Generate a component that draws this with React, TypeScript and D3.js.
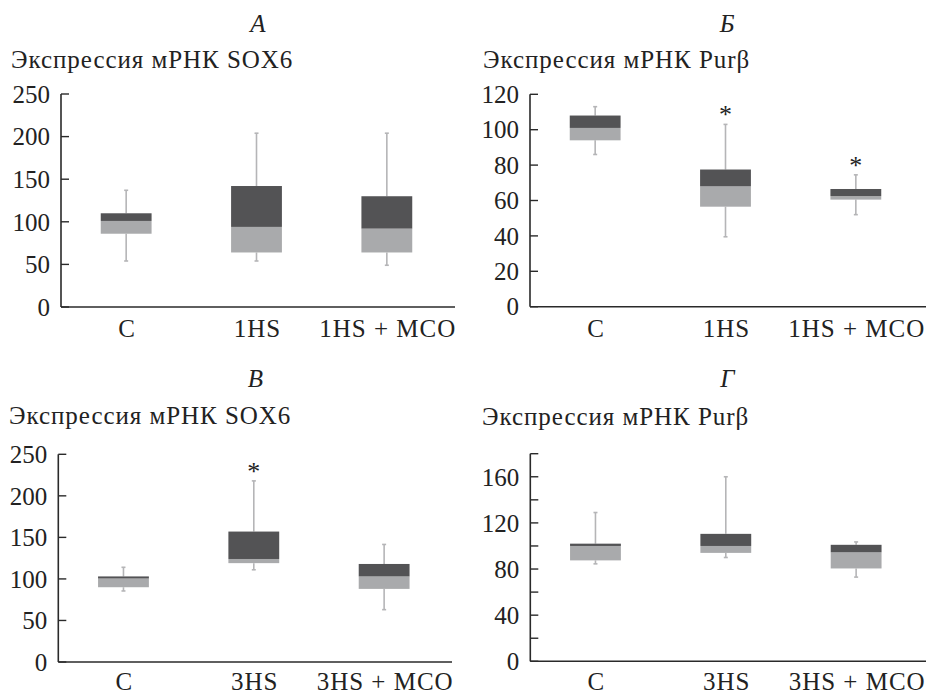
import React from "react";
import * as d3 from "d3";

// ---------- data ----------
const catsA = ["C", "1HS", "1HS + MCO"];
const catsB = ["C", "1HS", "1HS + MCO"];
const catsV = ["C", "3HS", "3HS + MCO"];
const catsG = ["C", "3HS", "3HS + MCO"];

// [whiskerLow, q1, median, q3, whiskerHigh]
const statsA = [
  [54, 86, 101, 110, 137],
  [54, 64, 94, 142, 204],
  [49, 64, 92, 130, 204],
];
const statsB = [
  [86, 94, 101, 108, 113],
  [39.5, 56.5, 68, 77.5, 103],
  [52, 60.5, 62.5, 66.5, 74.5],
];
const statsV = [
  [85.5, 90, 100.5, 103, 114],
  [111, 119, 124, 157, 218],
  [63, 88, 103, 118, 141.5],
];
const statsG = [
  [84.5, 87.5, 100, 102, 129],
  [90, 94, 100, 110.5, 160],
  [73, 80.5, 94.5, 101, 103.5],
];

const starsA = [false, false, false];
const starsB = [false, true, true];
const starsV = [false, true, false];
const starsG = [false, false, false];

const ticksA = [0, 50, 100, 150, 200, 250];
const ticksB = [0, 20, 40, 60, 80, 100, 120];
const ticksV = [0, 50, 100, 150, 200, 250];
const ticksG = [0, 20, 40, 60, 80, 100, 120, 140, 160, 180];
const labelsG = [0, 40, 80, 120, 160];

const titleSOX = "Экспрессия мРНК SOX6";
const titlePur = "Экспрессия мРНК Purβ";

// ---------- styles ----------
const FONT = "'Liberation Serif', 'Times New Roman', serif";
const DARK = "#535355";
const LIGHT = "#a9aaac";
const WHISK = "#b5b5b7";
const AXIS = "#2a2a2a";
const TXT = "#222";

type PanelProps = {
  letter: string;
  title: string;
  cats: string[];
  stats: number[][];
  stars: boolean[];
  domainMax: number;
  ticks: number[];
  labels: number[];
  ax: number;
  yTop: number;
  y0: number;
  xEnd: number;
  titleX: number;
  titleY: number;
  letterY: number;
  catY: number;
};

function Panel(p: PanelProps) {
  const y = d3.scaleLinear().domain([0, p.domainMax]).range([p.y0, p.yTop]);
  const x = d3.scaleBand<string>().domain(p.cats).range([p.ax, p.ax + 391]).paddingInner(0).paddingOuter(0);
  const bw = x.step() * 0.39;
  const capW = 4;
  const plotCenter = p.ax + 197;
  return (
    <g>
      <text x={plotCenter} y={p.letterY} textAnchor="middle" fontStyle="italic" fontSize={25} fontFamily={FONT} fill={TXT}>
        {p.letter}
      </text>
      <text x={p.titleX} y={p.titleY} fontSize={25} letterSpacing={0.95} fontFamily={FONT} fill={TXT}>
        {p.title}
      </text>
      {p.stats.map((s, i) => {
        const cx = (x(p.cats[i]) as number) + x.bandwidth() / 2;
        const [lo, q1, med, q3, hi] = s;
        return (
          <g key={i}>
            <line x1={cx} x2={cx} y1={y(hi)} y2={y(q3)} stroke={WHISK} strokeWidth={1.6} />
            <line x1={cx} x2={cx} y1={y(q1)} y2={y(lo)} stroke={WHISK} strokeWidth={1.6} />
            <line x1={cx - capW / 2} x2={cx + capW / 2} y1={y(hi)} y2={y(hi)} stroke={WHISK} strokeWidth={1.6} />
            <line x1={cx - capW / 2} x2={cx + capW / 2} y1={y(lo)} y2={y(lo)} stroke={WHISK} strokeWidth={1.6} />
            <rect x={cx - bw / 2} width={bw} y={y(med)} height={y(q1) - y(med)} fill={LIGHT} />
            <rect x={cx - bw / 2} width={bw} y={y(q3)} height={y(med) - y(q3)} fill={DARK} />
            {p.stars[i] && (
              <text x={cx} y={y(hi) - 1} textAnchor="middle" fontSize={26} fontFamily={FONT} fill={TXT}>
                *
              </text>
            )}
            <text x={cx + 1} y={p.catY} textAnchor="middle" fontSize={25} letterSpacing={1} fontFamily={FONT} fill={TXT}>
              {p.cats[i]}
            </text>
          </g>
        );
      })}
      <line x1={p.ax} x2={p.ax} y1={p.yTop} y2={p.y0} stroke={AXIS} strokeWidth={1.6} />
      <line x1={p.ax} x2={p.xEnd} y1={p.y0} y2={p.y0} stroke={AXIS} strokeWidth={1.6} />
      {p.ticks.map((t) => (
        <line key={"t" + t} x1={p.ax} x2={p.ax + 8} y1={y(t)} y2={y(t)} stroke={AXIS} strokeWidth={1.4} />
      ))}
      {p.labels.map((t) => (
        <text key={"l" + t} x={p.ax - 11} y={y(t)} dy="0.35em" textAnchor="end" fontSize={25} fontFamily={FONT} fill={TXT}>
          {t}
        </text>
      ))}
    </g>
  );
}

export default function App() {
  return (
    <div style={{ position: "absolute", left: 0, top: 0 }}>
      <svg width={933} height={694} style={{ display: "block", background: "#fff" }}>
        <Panel letter="А" title={titleSOX} cats={catsA} stats={statsA} stars={starsA} domainMax={250}
          ticks={ticksA} labels={ticksA} ax={61} yTop={94} y0={307} xEnd={455}
          titleX={11} titleY={68} letterY={32} catY={337} />
        <Panel letter="Б" title={titlePur} cats={catsB} stats={statsB} stars={starsB} domainMax={120}
          ticks={ticksB} labels={ticksB} ax={530} yTop={94.3} y0={306.7} xEnd={926}
          titleX={483} titleY={68} letterY={32} catY={337} />
        <Panel letter="В" title={titleSOX} cats={catsV} stats={statsV} stars={starsV} domainMax={250}
          ticks={ticksV} labels={ticksV} ax={58.3} yTop={454.3} y0={662} xEnd={452}
          titleX={9} titleY={424} letterY={387} catY={690} />
        <Panel letter="Г" title={titlePur} cats={catsG} stats={statsG} stars={starsG} domainMax={180}
          ticks={ticksG} labels={labelsG} ax={530.3} yTop={453.7} y0={661.3} xEnd={926}
          titleX={482} titleY={425} letterY={387} catY={690} />
      </svg>
    </div>
  );
}
